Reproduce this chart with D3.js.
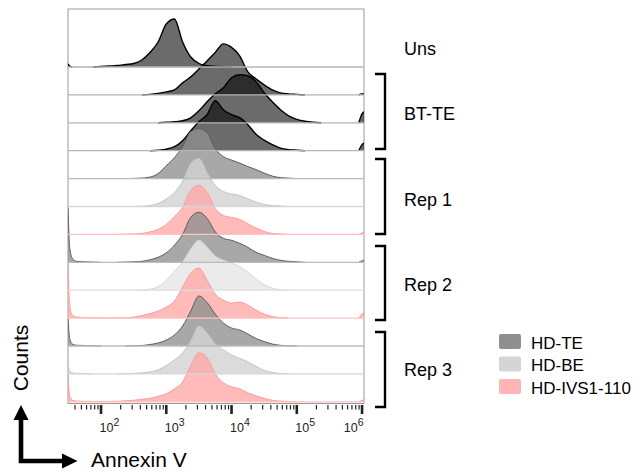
<!DOCTYPE html>
<html>
<head>
<meta charset="utf-8">
<script src="https://cdn.jsdelivr.net/npm/d3@7"></script>
<style>
  html, body { margin: 0; padding: 0; background: #fff; }
  svg { display: block; font-family: "Liberation Sans", Arial, sans-serif; }
</style>
</head>
<body>
<div id="chart"></div>
<script>
// Staggered Annexin V histograms (mode normalised, 100 = row peak)

// log10 channel positions of the histogram points
const binExp = [1.494, 1.52, 1.56, 1.625, 1.75, 1.875, 2.0, 2.125, 2.25, 2.375, 2.5, 2.625, 2.75, 2.875,
  3.0, 3.125, 3.25, 3.375, 3.5, 3.625, 3.75, 3.875, 4.0, 4.125, 4.25, 4.375, 4.5, 4.625, 4.75, 4.875,
  5.0, 5.125, 5.25, 5.375, 5.5, 5.625, 5.75, 5.875, 5.95, 6.0, 6.03];

const uns     = [6,2,0, 0,0,0, 1,2,3,5, 7,14,29,50, 86,96,50,20, 7,2.4,1.2,0.6, 0,0,0,0, 0,0,0,0, 0,0,0,0, 0,0,0,0, 0,0,0];
const btTe1   = [0,0,0, 0,0,0, 0,0,0,0, 0,0,1,3, 6,10,24,36, 52,68,85,102, 95,78,46,32, 20,10,4,2, 1,0,0,0, 0,0,0,0, 0,2,2];
const btTe2   = [0,0,0, 0,0,0, 0,0,0,0, 0,0,0,0, 1,2,4,10, 24,42,58,70, 90,96,94,82, 60,42,26,14, 7,3,1,0, 0,0,0,0, 0,18,22];
const btTe3   = [0,0,0, 0,0,0, 0,0,0,0, 0,0,0,1, 3,8,20,40, 58,72,100,82, 72,66,52,33, 21,12,5,2, 1,0,0,0, 0,0,0,0, 0,12,15];
const rep1Te  = [0,0,0, 0,0,0, 0,0,0,0, 0.5,1,3,10, 26,42,64,94, 100,92,60,44, 37,31,24,18, 11,5,2,1, 0,0,0,0, 0,0,0,0, 0,0,0];
const rep1Be  = [0,0,0, 0,0,0, 0,0,0,0, 0,0.5,2,6, 15,28,50,86, 96,68,42,30, 25,22,15,9, 4,2,1,0, 0,0,0,0, 0,0,0,0, 0,0,0];
const rep1Ivs = [0,0,0, 0,0,0, 0,0,0,0.5, 1,2,5,10, 20,36,54,88, 98,84,52,38, 34,30,21,13, 6,2,1,0, 0,0,0,0, 0,0,0,0, 0,3,4];
const rep2Te  = [110,30,8, 2,1,0.5, 0,0,0,0.5, 1,2,5,10, 19,34,56,90, 100,88,61,48, 44,38,30,20, 14,8,4,2, 1,0,0,0, 0,0,0,0, 0,3,4];
const rep2Be  = [0,0,0, 0,0,0, 0,0,0,0, 0,0.5,2,7, 20,38,56,82, 100,86,68,60, 54,47,36,22, 11,4,1,0, 0,0,0,0, 0,0,0,0, 0,0,0];
const rep2Ivs = [110,25,6, 2,1,0.5, 0.3,0.3,0.5,1, 2,5,9,14, 22,34,62,90, 100,76,48,36, 30,32,26,16, 8,3,1,0, 0,0,0,0, 0,0,0,0, 0,8,10];
const rep3Te  = [56,15,4, 1.5,1,0.5, 0,0,0,0, 0.5,1,3,6, 12,22,40,70, 100,87,64,46, 36,32,24,15, 9,4,1.4,0.5, 0,0,0,0, 0,0,0,0, 0,0,0];
const rep3Be  = [20,6,2, 1,0.5,0, 0,0,0,0.5, 1,2,4,8, 17,28,42,66, 96,82,60,48, 38,31,24,15, 7,3,1,0, 0,0,0,0, 0,0,0,0, 0,0,0];
const rep3Ivs = [54,12,3, 1.5,1,0.8, 0.8,0.8,1,2, 3,5,7,11, 16,26,40,72, 98,88,56,38, 30,26,18,12, 7,3,1.4,0.6, 0,0,0,0, 0,0,0,0, 0,3,4];

// top to bottom
const rows = [uns, btTe1, btTe2, btTe3, rep1Te, rep1Be, rep1Ivs, rep2Te, rep2Be, rep2Ivs, rep3Te, rep3Be, rep3Ivs];
const rowKinds = ["bt", "bt", "bt", "bt", "te", "be", "ivs", "te", "beLight", "ivs", "te", "be", "ivs"];

const groupLabels = ["Uns", "BT-TE", "Rep 1", "Rep 2", "Rep 3"];
const legendLabels = ["HD-TE", "HD-BE", "HD-IVS1-110"];
const legendColors = ["#8f8f8f", "#d5d5d5", "#ffb5b5"];
const tickExponents = [2, 3, 4, 5, 6];

const styles = {
    bt:      { fill: "#000",    op: 0.58, stroke: "#000",    sw: 1.4, base: "#b4b4b4" },
    te:      { fill: "#909090", op: 0.78, stroke: "#5e5e5e", sw: 1,   base: "#bbbbbb" },
    be:      { fill: "#d3d3d3", op: 0.82, stroke: "#c2c2c2", sw: 1,   base: "#d6d6d6" },
    beLight: { fill: "#e8e8e8", op: 0.85, stroke: "#d6d6d6", sw: 1,   base: "#dedede" },
    ivs:     { fill: "#ffa6a6", op: 0.78, stroke: "#ff9a9a", sw: 1,   base: "#ffc2c2" }
};

const w = 643, h = 472;
const plot = { left: 68, right: 364, top: 9, bottom: 403.5 };

const svg = d3.select("#chart")
    .append("svg")
    .attr("width", w)
    .attr("height", h);

// Scales
const x = d3.scaleLog()
    .domain([10 ** 1.494, 10 ** 6.03])
    .range([plot.left, plot.right]);

const yBase = d3.scaleLinear()
    .domain([0, rows.length - 1])
    .range([67, 401.8]);

const hScale = d3.scaleLinear()
    .domain([0, 100])
    .range([0, 50]);

svg.append("defs").append("clipPath")
    .attr("id", "plotclip")
    .append("rect")
    .attr("x", plot.left)
    .attr("y", plot.top)
    .attr("width", plot.right - plot.left)
    .attr("height", plot.bottom - plot.top);

// frame
svg.append("rect")
    .attr("x", plot.left)
    .attr("y", plot.top)
    .attr("width", plot.right - plot.left)
    .attr("height", plot.bottom - plot.top)
    .attr("fill", "none")
    .attr("stroke", "#9a9a9a")
    .attr("stroke-width", 1);

const g = svg.append("g").attr("clip-path", "url(#plotclip)");

// Histograms, later rows painted over earlier ones
rows.forEach((vals, i) => {
    const st = styles[rowKinds[i]];
    const base = yBase(i);
    const pts = vals.map((v, j) => ({ e: binExp[j], v: v, j: j }));

    const area = d3.area()
        .x(d => x(10 ** d.e))
        .y0(base)
        .y1(d => base - hScale(d.v))
        .curve(d3.curveMonotoneX);

    const line = d3.line()
        .defined(d => d.v > 0 || vals[d.j - 1] > 0 || vals[d.j + 1] > 0)
        .x(d => x(10 ** d.e))
        .y(d => base - hScale(d.v))
        .curve(d3.curveMonotoneX);

    g.append("path")
        .datum(pts)
        .attr("d", area)
        .attr("fill", st.fill)
        .attr("fill-opacity", st.op);

    g.append("path")
        .datum(pts)
        .attr("d", line)
        .attr("fill", "none")
        .attr("stroke", st.stroke)
        .attr("stroke-width", st.sw)
        .attr("stroke-linejoin", "round");
});

// baselines sit on top of the fills
g.selectAll("line.base")
    .data(rows)
    .enter()
    .append("line")
    .attr("class", "base")
    .attr("x1", plot.left)
    .attr("x2", plot.right)
    .attr("y1", (d, i) => yBase(i))
    .attr("y2", (d, i) => yBase(i))
    .attr("stroke", (d, i) => styles[rowKinds[i]].base)
    .attr("stroke-width", 1.3);

// X axis: log ticks, majors thicker
const tickY = plot.bottom + 1.5;
const allTicks = x.ticks().filter(t => t >= x.domain()[0] && t <= x.domain()[1]);
const isMajor = t => Math.abs(Math.log10(t) - Math.round(Math.log10(t))) < 1e-9;

svg.append("g")
    .selectAll("line")
    .data(allTicks)
    .enter()
    .append("line")
    .attr("x1", d => x(d))
    .attr("x2", d => x(d))
    .attr("y1", tickY)
    .attr("y2", d => tickY + (isMajor(d) ? 9 : 4.5))
    .attr("stroke", "#222")
    .attr("stroke-width", d => isMajor(d) ? 2.6 : 1.2);

const labels = svg.append("g")
    .selectAll("text")
    .data(tickExponents)
    .enter()
    .append("text")
    .attr("x", d => d === 6 ? x(10 ** d) + 1.5 : x(10 ** d) - 1.5)
    .attr("y", 432)
    .attr("text-anchor", d => d === 6 ? "end" : "start")
    .style("font-size", "12.5px")
    .style("fill", "#222");
labels.append("tspan").text("10");
labels.append("tspan")
    .attr("dy", -6.5)
    .style("font-size", "10.5px")
    .text(d => d);

// Axis titles with L-shaped arrows
svg.append("text")
    .attr("transform", "translate(28,358) rotate(-90)")
    .attr("text-anchor", "middle")
    .style("font-size", "21px")
    .style("fill", "#000")
    .text("Counts");

svg.append("text")
    .attr("x", 91)
    .attr("y", 467)
    .style("font-size", "21px")
    .style("fill", "#000")
    .text("Annexin V");

svg.append("path")
    .attr("d", "M21,419 V461 H63")
    .attr("fill", "none")
    .attr("stroke", "#000")
    .attr("stroke-width", 4.6);
svg.append("path")
    .attr("d", "M21,405 L28.5,420 L13.5,420 Z")
    .attr("fill", "#000");
svg.append("path")
    .attr("d", "M77.5,461 L62,453.5 L62,468.5 Z")
    .attr("fill", "#000");

// Group labels and brackets
const labelY = [55, 120, 206, 291, 376];
svg.selectAll("text.group")
    .data(groupLabels)
    .enter()
    .append("text")
    .attr("class", "group")
    .attr("x", 404)
    .attr("y", (d, i) => labelY[i])
    .style("font-size", "18px")
    .style("fill", "#000")
    .text(d => d);

const bracketSpans = [[74, 149], [159, 234], [246, 320], [332, 407]];
svg.selectAll("path.bracket")
    .data(bracketSpans)
    .enter()
    .append("path")
    .attr("class", "bracket")
    .attr("d", d => `M375,${d[0]} H385 V${d[1]} H375`)
    .attr("fill", "none")
    .attr("stroke", "#000")
    .attr("stroke-width", 2.4);

// Legend
const legend = svg.append("g");
const legendY = [334, 356.5, 379];
legend.selectAll("rect")
    .data(legendLabels)
    .enter()
    .append("rect")
    .attr("x", 499)
    .attr("y", (d, i) => legendY[i])
    .attr("width", 22)
    .attr("height", 15)
    .attr("rx", 2)
    .attr("fill", (d, i) => legendColors[i]);

legend.selectAll("text")
    .data(legendLabels)
    .enter()
    .append("text")
    .attr("x", 531)
    .attr("y", (d, i) => legendY[i] + 14.5)
    .style("font-size", "17px")
    .style("fill", "#000")
    .text(d => d);
</script>
</body>
</html>
